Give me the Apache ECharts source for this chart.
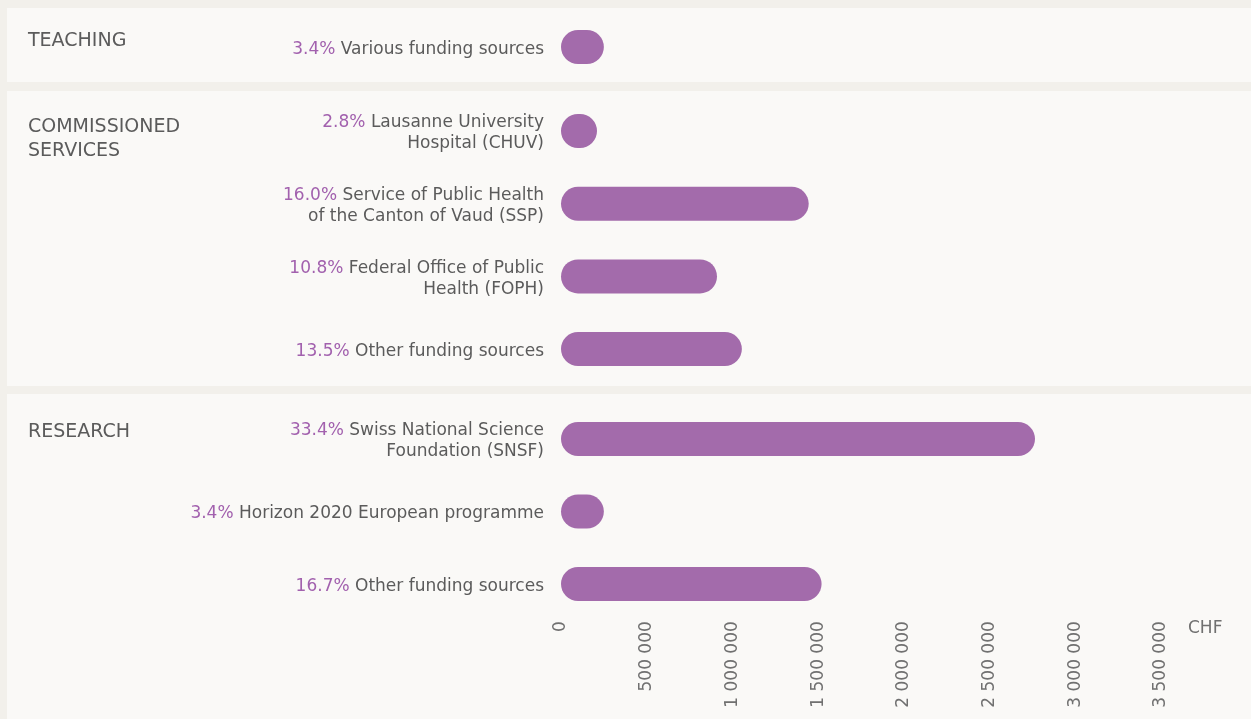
<!DOCTYPE html>
<html>
<head>
<meta charset="utf-8">
<script src="https://cdn.jsdelivr.net/npm/echarts@6/dist/echarts.min.js"></script>
<style>
  html, body { margin: 0; padding: 0; background: #f2f0eb; }
  #main { width: 1251px; height: 719px; }
</style>
</head>
<body>
<div id="main"></div>
<script>
// section titles
var sectionTitles = ["TEACHING", "COMMISSIONED\nSERVICES", "RESEARCH"];

// teaching
var teachingNames = ["Various funding sources"];
var teachingShares = ["3.4%"];
var teachingValues = [250000];

// commissioned services
var servicesNames = [
  "Lausanne University\nHospital (CHUV)",
  "Service of Public Health\nof the Canton of Vaud (SSP)",
  "Federal Office of Public\nHealth (FOPH)",
  "Other funding sources"
];
var servicesShares = ["2.8%", "16.0%", "10.8%", "13.5%"];
var servicesValues = [210000, 1445000, 910000, 1055000];

// research
var researchNames = [
  "Swiss National Science\nFoundation (SNSF)",
  "Horizon 2020 European programme",
  "Other funding sources"
];
var researchShares = ["33.4%", "3.4%", "16.7%"];
var researchValues = [2765000, 250000, 1520000];

// x axis
var xMin = 0;
var xMax = 3500000;
var xStep = 500000;
var xUnit = "CHF";

var groups = [
  { names: teachingNames, shares: teachingShares, values: teachingValues, top: 11, height: 72, titleY: 29 },
  { names: servicesNames, shares: servicesShares, values: servicesValues, top: 94.7, height: 290.7, titleY: 115 },
  { names: researchNames, shares: researchShares, values: researchValues, top: 402.7, height: 217.5, titleY: 420 }
];

var font = "DejaVu Sans";
var purple = "#a36bab";
var textGrey = "#5b5b5b";

function fmtNumber(v) {
  return String(v).replace(/\B(?=(\d{3})+(?!\d))/g, " ");
}

var grids = [], xAxes = [], yAxes = [], series = [];
groups.forEach(function (g, i) {
  var last = i === groups.length - 1;
  grids.push({ left: 561, right: 90, top: g.top, height: g.height });
  xAxes.push({
    gridIndex: i,
    type: "value",
    min: xMin,
    max: xMax,
    interval: xStep,
    axisLine: { show: false },
    axisTick: { show: false },
    splitLine: { show: false },
    axisLabel: {
      show: last,
      rotate: 90,
      margin: 1,
      color: "#707070",
      fontSize: 17,
      fontFamily: font,
      formatter: fmtNumber
    },
    name: last ? xUnit : "",
    nameLocation: "end",
    nameGap: 27,
    nameTextStyle: { color: "#707070", fontSize: 17, fontFamily: font, verticalAlign: "top" }
  });
  yAxes.push({
    gridIndex: i,
    type: "category",
    inverse: true,
    data: g.names,
    axisLine: { show: false },
    axisTick: { show: false },
    axisLabel: {
      margin: 17,
      padding: [5, 0, 0, 0],
      formatter: function (value, idx) {
        var lines = value.split("\n");
        var out = "{p|" + g.shares[idx] + " }{n|" + lines[0] + "}";
        for (var k = 1; k < lines.length; k++) out += "\n{n|" + lines[k] + "}";
        return out;
      },
      rich: {
        p: { color: "#a261ae", fontSize: 17, fontFamily: font, align: "right", lineHeight: 21 },
        n: { color: textGrey, fontSize: 17, fontFamily: font, align: "right", lineHeight: 21 }
      }
    }
  });
  series.push({
    type: "bar",
    xAxisIndex: i,
    yAxisIndex: i,
    data: g.values,
    barWidth: 34,
    itemStyle: { color: purple, borderRadius: 17 }
  });
});

var graphics = [
  { type: "rect", z: -10, shape: { x: 7, y: 8, width: 1244, height: 74 }, style: { fill: "#faf9f7" } },
  { type: "rect", z: -10, shape: { x: 7, y: 91, width: 1244, height: 295 }, style: { fill: "#faf9f7" } },
  { type: "rect", z: -10, shape: { x: 7, y: 394, width: 1244, height: 330 }, style: { fill: "#faf9f7" } }
];
groups.forEach(function (g, i) {
  graphics.push({
    type: "text",
    left: 28,
    top: g.titleY,
    style: {
      text: sectionTitles[i],
      fill: textGrey,
      fontSize: 19,
      fontFamily: font,
      lineHeight: 24
    }
  });
});

var chart = echarts.init(document.getElementById("main"));
chart.setOption({
  backgroundColor: "#f2f0eb",
  animation: false,
  graphic: graphics,
  grid: grids,
  xAxis: xAxes,
  yAxis: yAxes,
  series: series
});
</script>
</body>
</html>
